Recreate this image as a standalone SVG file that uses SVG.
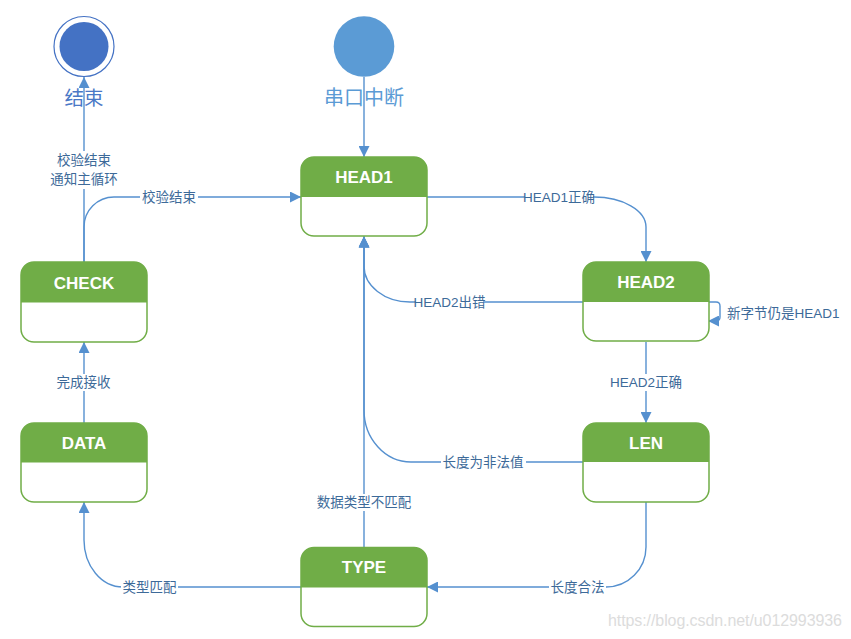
<svg xmlns="http://www.w3.org/2000/svg" width="851" height="639" viewBox="0 0 851 639">
<style>
.body{fill:#fff;stroke:#70AD47;stroke-width:1.5}
.hdr{fill:#70AD47}
.title{font-family:"Liberation Sans","Noto Sans CJK SC",sans-serif;font-weight:bold;font-size:17px;fill:#fff;text-anchor:middle}
.edge{fill:none;stroke:#5590CF;stroke-width:1.4}
.lbl{font-family:"Liberation Sans","Noto Sans CJK SC",sans-serif;font-size:13.5px;fill:#3D6A99;text-anchor:middle;dominant-baseline:central}
.bg{fill:#fff}
</style>
<defs>
<marker id="arr" markerWidth="11" markerHeight="11" refX="11" refY="5.5" orient="auto" markerUnits="userSpaceOnUse">
<path d="M0,0 L11,5.5 L0,11 z" fill="#5590CF"/>
</marker>
</defs>

<g id="end">
<circle cx="84" cy="46.5" r="30" fill="#fff" stroke="#4472C4" stroke-width="1.2"/>
<circle cx="84" cy="46.5" r="24.5" fill="#4472C4"/>
<text x="84" y="104.5" font-family="'Noto Sans CJK SC',sans-serif" font-size="19.5" fill="#4A78C6" text-anchor="middle">结束</text>
</g>
<g id="start">
<circle cx="364" cy="46.5" r="30.3" fill="#5B9BD5"/>
<text x="364" y="104.5" font-family="'Noto Sans CJK SC',sans-serif" font-size="20" fill="#5B9BD5" text-anchor="middle">串口中断</text>
</g>

<g id="connectors">
<path class="edge" d="M364,77 V157" marker-end="url(#arr)"/>
<path class="edge" d="M84,262 V77" marker-end="url(#arr)"/>
<path class="edge" d="M84,262 V227 A30,30 0 0 1 114,197 H301" marker-end="url(#arr)"/>
<path class="edge" d="M427,197 H594 A52,30 0 0 1 646,227 V262" marker-end="url(#arr)"/>
<path class="edge" d="M583,302 H410 A46,36 0 0 1 364,266 V236.5" marker-end="url(#arr)"/>
<path class="edge" d="M708,302 H716 Q720,302 720,306 V317 Q720,321 716,321 H708" marker-end="url(#arr)"/>
<path class="edge" d="M646,342 V423" marker-end="url(#arr)"/>
<path class="edge" d="M583,462 H411 A47,52 0 0 1 364,410 V236.5" marker-end="url(#arr)"/>
<path class="edge" d="M646,502 V547 A40,40 0 0 1 606,587 H427" marker-end="url(#arr)"/>
<path class="edge" d="M364,548 V236.5" marker-end="url(#arr)"/>
<path class="edge" d="M301,587 H123 A39,47 0 0 1 84,540 V502" marker-end="url(#arr)"/>
<path class="edge" d="M84,423 V342" marker-end="url(#arr)"/>

<rect class="bg" x="52" y="151" width="64" height="38"/>
<text class="lbl" x="84" y="160.5">校验结束</text>
<text class="lbl" x="84" y="179.5">通知主循环</text>
<rect class="bg" x="140" y="189" width="58" height="16"/>
<text class="lbl" x="169" y="197">校验结束</text>
<rect class="bg" x="525" y="189" width="68" height="16"/>
<text class="lbl" x="559" y="197">HEAD1正确</text>
<rect class="bg" x="416" y="294" width="67" height="16"/>
<text class="lbl" x="449.5" y="302">HEAD2出错</text>
<text class="lbl" x="727" y="313.5" style="text-anchor:start">新字节仍是HEAD1</text>
<rect class="bg" x="612" y="374" width="68" height="17"/>
<text class="lbl" x="646" y="382.5">HEAD2正确</text>
<rect class="bg" x="441" y="454" width="85" height="16"/>
<text class="lbl" x="483" y="462">长度为非法值</text>
<rect class="bg" x="315" y="494" width="98" height="17"/>
<text class="lbl" x="364" y="502.5">数据类型不匹配</text>
<rect class="bg" x="121" y="579" width="57" height="16"/>
<text class="lbl" x="149.5" y="587.5">类型匹配</text>
<rect class="bg" x="549" y="579" width="57" height="16"/>
<text class="lbl" x="577.5" y="587.5">长度合法</text>
<rect class="bg" x="54" y="374" width="59" height="17"/>
<text class="lbl" x="83.5" y="382.5">完成接收</text>
</g>

<g id="HEAD1">
<rect class="body" x="301" y="157" width="126" height="79" rx="13"/>
<path class="hdr" d="M301,197 V170 A13,13 0 0 1 314,157 H414 A13,13 0 0 1 427,170 V197 Z"/>
<text class="title" x="364" y="183">HEAD1</text>
</g>
<g id="HEAD2">
<rect class="body" x="583" y="262" width="126" height="79" rx="13"/>
<path class="hdr" d="M583,302 V275 A13,13 0 0 1 596,262 H696 A13,13 0 0 1 709,275 V302 Z"/>
<text class="title" x="646" y="288">HEAD2</text>
</g>
<g id="LEN">
<rect class="body" x="583" y="423" width="126" height="79" rx="13"/>
<path class="hdr" d="M583,462 V436 A13,13 0 0 1 596,423 H696 A13,13 0 0 1 709,436 V462 Z"/>
<text class="title" x="646" y="448.5">LEN</text>
</g>
<g id="CHECK">
<rect class="body" x="21" y="262" width="126" height="80" rx="13"/>
<path class="hdr" d="M21,302.5 V275 A13,13 0 0 1 34,262 H134 A13,13 0 0 1 147,275 V302.5 Z"/>
<text class="title" x="84" y="288.5">CHECK</text>
</g>
<g id="DATA">
<rect class="body" x="21" y="423" width="126" height="79" rx="13"/>
<path class="hdr" d="M21,462.5 V436 A13,13 0 0 1 34,423 H134 A13,13 0 0 1 147,436 V462.5 Z"/>
<text class="title" x="84" y="448.5">DATA</text>
</g>
<g id="TYPE">
<rect class="body" x="301" y="547.5" width="126" height="79" rx="13"/>
<path class="hdr" d="M301,587.5 V560.5 A13,13 0 0 1 314,547.5 H414 A13,13 0 0 1 427,560.5 V587.5 Z"/>
<text class="title" x="364" y="573">TYPE</text>
</g>

<text x="608" y="626" font-family="'Liberation Sans',sans-serif" font-size="16" fill="#DCDCDC" textLength="234">https://blog.csdn.net/u012993936</text>
</svg>
